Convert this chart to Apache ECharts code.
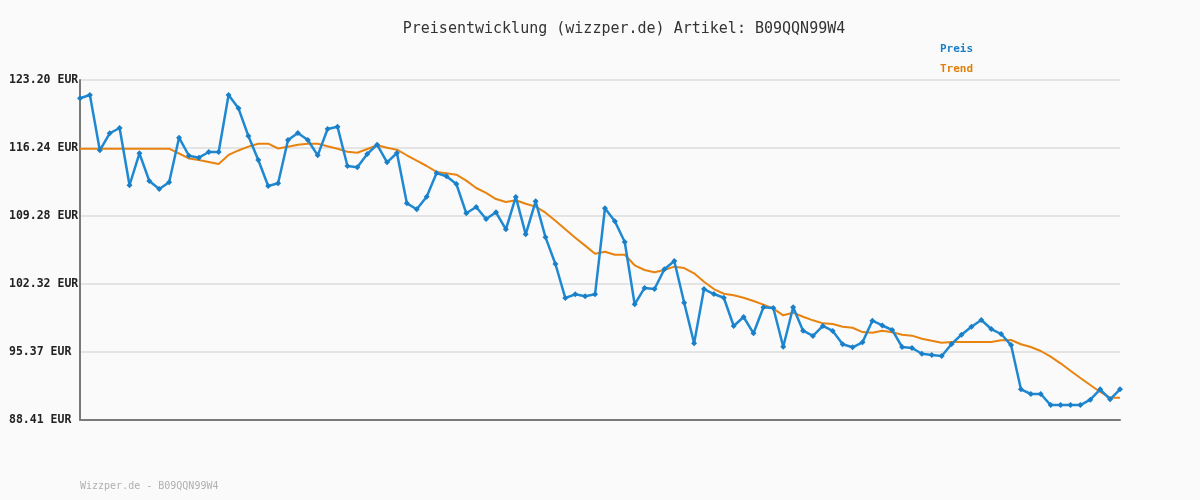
<!DOCTYPE html>
<html>
<head>
  <meta charset="utf-8" />
  <title>Preisentwicklung</title>
  <script src="https://cdn.jsdelivr.net/npm/echarts@6.0.0/dist/echarts.min.js"></script>
</head>
<style>
  body { margin: 0; padding: 0; overflow: hidden; background: #fafafa; }
</style>
<body>
  <div id="main" style="width: 1200px;height: 500px;"></div>
  <script type="text/javascript">
    // Preis je Messpunkt (EUR)
    const preis = [
      121.33, 121.67, 116.01, 117.75, 118.29, 112.43, 115.70, 112.87, 112.05, 112.73,
      117.30, 115.45, 115.25, 115.83, 115.83, 121.67, 120.30, 117.47, 115.01, 112.35,
      112.63, 117.06, 117.78, 117.06, 115.49, 118.19, 118.42, 114.40, 114.27, 115.63,
      116.58, 114.78, 115.73, 110.58, 109.97, 111.26, 113.68, 113.35, 112.56, 109.56,
      110.20, 108.98, 109.66, 107.92, 111.23, 107.41, 110.79, 107.10, 104.37, 100.89,
      101.27, 101.07, 101.27, 110.07, 108.74, 106.62, 100.25, 101.92, 101.81, 103.83,
      104.68, 100.41, 96.26, 101.81, 101.30, 100.92, 98.03, 98.95, 97.28, 99.94,
      99.87, 95.91, 99.94, 97.55, 97.01, 98.03, 97.52, 96.16, 95.85, 96.36,
      98.57, 98.08, 97.62, 95.88, 95.78, 95.19, 95.06, 94.96, 96.19, 97.14,
      97.96, 98.64, 97.72, 97.21, 96.08, 91.55, 91.07, 91.07, 89.94, 89.94,
      89.94, 89.94, 90.49, 91.55, 90.53, 91.55
    ];
    // Trendlinie
    const trend = [
      116.17, 116.17, 116.17, 116.17, 116.17, 116.17, 116.17, 116.17, 116.17, 116.17,
      115.68, 115.17, 115.01, 114.81, 114.60, 115.53, 115.99, 116.38, 116.68, 116.68,
      116.19, 116.38, 116.58, 116.68, 116.68, 116.42, 116.17, 115.86, 115.76, 116.14,
      116.52, 116.27, 116.07, 115.50, 114.94, 114.40, 113.79, 113.65, 113.51, 112.90,
      112.15, 111.64, 111.02, 110.72, 110.89, 110.54, 110.24, 109.62, 108.80, 107.92,
      107.06, 106.25, 105.43, 105.63, 105.32, 105.32, 104.24, 103.76, 103.52, 103.76,
      104.10, 103.96, 103.42, 102.56, 101.81, 101.33, 101.17, 100.92, 100.59, 100.21,
      99.80, 99.12, 99.39, 98.98, 98.61, 98.30, 98.23, 97.96, 97.85, 97.41,
      97.34, 97.55, 97.38, 97.14, 97.04, 96.73, 96.52, 96.32, 96.39, 96.39,
      96.39, 96.39, 96.39, 96.57, 96.60, 96.16, 95.88, 95.47, 94.89, 94.21,
      93.45, 92.71, 91.99, 91.28, 90.69, 90.69
    ];
    const kategorien = preis.map((v, i) => String(i + 1));
    const yMin = 88.41;
    const yMax = 123.20;
    const yTickLabels = ['88.41 EUR', '95.37 EUR', '102.32 EUR', '109.28 EUR', '116.24 EUR', '123.20 EUR'];
    const yStep = (yMax - yMin) / 5;

    const mono = 'DejaVu Sans Mono';
    const myChart = echarts.init(document.getElementById('main'));
    const option = {
      backgroundColor: '#fafafa',
      animation: false,
      title: {
        text: 'Preisentwicklung (wizzper.de) Artikel: B09QQN99W4',
        left: 619,
        textAlign: 'center',
        top: 17,
        textStyle: { fontFamily: mono, fontSize: 15, fontWeight: 'normal', color: '#333' }
      },
      legend: {
        orient: 'vertical',
        left: 935,
        top: 39,
        itemWidth: 0,
        itemHeight: 0,
        itemGap: 9,
        selectedMode: false,
        data: [
          { name: 'Preis', icon: 'none', textStyle: { color: '#1a7fc6' } },
          { name: 'Trend', icon: 'none', textStyle: { color: '#e0800c' } }
        ],
        textStyle: { fontFamily: mono, fontSize: 11, fontWeight: 'bold', padding: [0, 0, 0, -5] }
      },
      graphic: [{
        type: 'text',
        left: 80,
        top: 481,
        style: { text: 'Wizzper.de - B09QQN99W4', font: '10px "DejaVu Sans Mono"', fill: '#b0b0b0' }
      }],
      grid: { left: 80, right: 80, top: 80, bottom: 80 },
      xAxis: {
        type: 'category',
        data: kategorien,
        boundaryGap: false,
        axisLine: { lineStyle: { color: '#7a7a7a', width: 2 } },
        axisTick: { show: false },
        axisLabel: { show: false },
        splitLine: { show: false }
      },
      yAxis: {
        type: 'value',
        min: yMin,
        max: yMax,
        interval: yStep,
        axisLine: { show: true, lineStyle: { color: '#7a7a7a', width: 2 } },
        axisTick: { show: false },
        axisLabel: {
          margin: 71,
          align: 'left',
          fontFamily: mono,
          fontSize: 11.5,
          fontWeight: 'bold',
          color: '#222',
          formatter: v => yTickLabels[Math.round((v - yMin) / yStep)]
        },
        splitLine: { lineStyle: { color: '#e4e4e4', width: 2 } }
      },
      series: [
        {
          name: 'Preis',
          type: 'line',
          data: preis,
          symbol: 'diamond',
          symbolSize: 6,
          showAllSymbol: true,
          lineStyle: { color: '#1f88d2', width: 2.5 },
          itemStyle: { color: '#1a7fc6', borderWidth: 0 },
          z: 3
        },
        {
          name: 'Trend',
          type: 'line',
          data: trend,
          symbol: 'none',
          lineStyle: { color: '#e8830f', width: 2 },
          itemStyle: { color: '#e0800c' },
          z: 2
        }
      ]
    };
    myChart.setOption(option);
  </script>
</body>
</html>
